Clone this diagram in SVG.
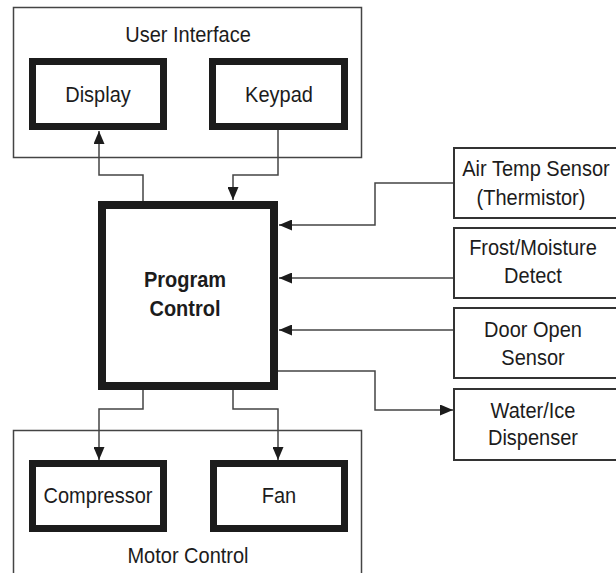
<svg xmlns="http://www.w3.org/2000/svg" width="616" height="573" viewBox="0 0 616 573">
<style>
.bg{fill:#fff}
.outer{fill:#fff;stroke:#444;stroke-width:1.5}
.thick{fill:#fff;stroke:#1c1c1c;stroke-width:7}
.side{fill:#fff;stroke:#333;stroke-width:2}
.t{font-family:"Liberation Sans",Arial,sans-serif;font-size:20px;fill:#1c1c1c;text-anchor:middle}
.b{font-weight:bold}
.con path{fill:none;stroke:#444;stroke-width:1.5;marker-end:url(#ah)}
</style>
<defs>
<marker id="ah" markerUnits="userSpaceOnUse" markerWidth="13" markerHeight="11" refX="13" refY="5.5" orient="auto">
<path d="M0,0 L13,5.5 L0,11 Z" fill="#1c1c1c"/>
</marker>
</defs>
<rect class="bg" x="0" y="0" width="616" height="573"/>
<g id="user-interface">
<rect class="outer" x="13.5" y="7.5" width="348" height="150"/>
<text class="t" transform="translate(188,42) scale(1,1.1)">User Interface</text>
</g>
<g id="display">
<rect class="thick" x="32.5" y="61.5" width="131" height="65"/>
<text class="t" transform="translate(98,102) scale(1,1.1)">Display</text>
</g>
<g id="keypad">
<rect class="thick" x="212.5" y="61.5" width="132" height="65"/>
<text class="t" transform="translate(279,102) scale(1,1.1)">Keypad</text>
</g>
<g id="motor-control">
<rect class="outer" x="13.5" y="430.5" width="348" height="160"/>
<text class="t" transform="translate(188,563) scale(1,1.1)">Motor Control</text>
</g>
<g id="compressor">
<rect class="thick" x="32.5" y="463.5" width="131" height="65"/>
<text class="t" transform="translate(98,503) scale(1,1.1)">Compressor</text>
</g>
<g id="fan">
<rect class="thick" x="213.5" y="463.5" width="131" height="65"/>
<text class="t" transform="translate(279,503) scale(1,1.1)">Fan</text>
</g>
<g id="program-control">
<rect class="thick" x="102" y="205" width="172" height="181" style="stroke-width:8"/>
<text class="t b" transform="translate(185,287) scale(1,1.1)">Program</text>
<text class="t b" transform="translate(185,316) scale(1,1.1)">Control</text>
</g>
<g id="air-temp-sensor">
<rect class="side" x="454" y="148" width="170" height="70"/>
<text class="t" transform="translate(536,176) scale(1,1.1)">Air Temp Sensor</text>
<text class="t" transform="translate(531,205) scale(1,1.1)">(Thermistor)</text>
</g>
<g id="frost-moisture">
<rect class="side" x="454" y="228" width="170" height="70"/>
<text class="t" transform="translate(533,255) scale(1,1.1)">Frost/Moisture</text>
<text class="t" transform="translate(533,283) scale(1,1.1)">Detect</text>
</g>
<g id="door-open">
<rect class="side" x="454" y="308" width="170" height="70"/>
<text class="t" transform="translate(533,337) scale(1,1.1)">Door Open</text>
<text class="t" transform="translate(533,365) scale(1,1.1)">Sensor</text>
</g>
<g id="water-ice">
<rect class="side" x="454" y="389" width="170" height="71"/>
<text class="t" transform="translate(533,418) scale(1,1.1)">Water/Ice</text>
<text class="t" transform="translate(533,445) scale(1,1.1)">Dispenser</text>
</g>
<g id="connectors" class="con">
<path d="M143,201 V175 H99 V131"/>
<path d="M278,130 V175 H233 V200"/>
<path d="M453,183 H375 V225 H279"/>
<path d="M453,278 H279"/>
<path d="M453,330 H279"/>
<path d="M278,371 H375 V410 H453"/>
<path d="M143,390 V409 H99 V460"/>
<path d="M233,390 V409 H278 V460"/>
</g>
</svg>
